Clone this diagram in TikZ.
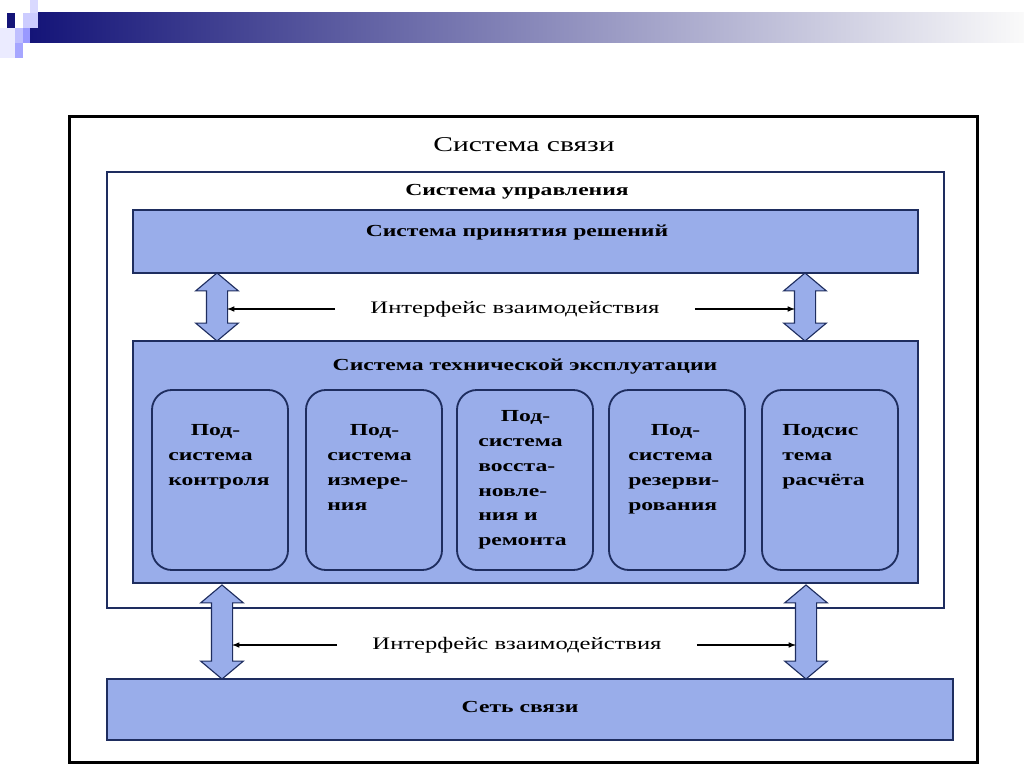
\documentclass[tikz,border=0pt]{standalone}
\usepackage{fontspec}
\setmainfont{Liberation Serif}
\newfontfamily\widefont{Liberation Serif}[FakeStretch=1.4]
\usetikzlibrary{shapes.arrows,positioning}
\definecolor{boxblue}{RGB}{153,173,234}
\definecolor{boxline}{RGB}{30,45,95}
\definecolor{navybar}{RGB}{20,20,120}

\begin{document}
\begin{tikzpicture}[x=0.025cm, y=-0.025cm,
  box/.style={draw=boxline, line width=0.9pt, fill=boxblue, rectangle, inner sep=0pt},
  subbox/.style={draw=boxline, line width=1.3pt, fill=boxblue, rounded corners=0.5cm, minimum width=3.4cm, minimum height=4.5cm},
  subtext/.style={align=left, anchor=north west, inner sep=0pt, font=\widefont\bfseries\fontsize{12}{17.7}\selectfont},
  headtext/.style={inner sep=0pt, font=\widefont\bfseries\fontsize{12}{14}\selectfont},
  ifctext/.style={inner sep=0pt, font=\widefont\fontsize{12.5}{14}\selectfont},
  dblarrow/.style={double arrow, rotate=90, draw=boxline, fill=boxblue, line width=0.8pt, inner xsep=0pt, inner ysep=0.25cm, double arrow head extend=0.27cm, double arrow tip angle=100},
  thin/.style={-latex, line width=0.8pt, shorten >=0.25cm}]
\useasboundingbox (0,0) rectangle (1024,767);

% Slide decoration
\shade[left color=navybar, right color=white!96!gray] (30,13) rectangle (1024,43);
\fill[navybar] (7,13) rectangle (15,28);
\fill[blue!15!white] (30,0) rectangle (38,13);
\fill[blue!20!white] (23,13) rectangle (38,28);
\fill[blue!8!white] (0,28) rectangle (15,58);
\fill[blue!25!white] (15,28) rectangle (23,43);
\fill[blue!40!white] (23,28) rectangle (30,43);
\fill[blue!35!white] (15,43) rectangle (23,58);

% Frames
\node[draw=black, line width=2.2pt, fill=white, minimum width=22.675cm, minimum height=16.125cm] (frame) at (523.5,439.5) {};
\node[font=\widefont\fontsize{15}{17}\selectfont, inner sep=0pt] (title) at (524,145) {Система связи};

\node[draw=boxline, line width=0.9pt, fill=white, minimum width=20.925cm, minimum height=10.9cm] (ctrl) at (525.5,390) {};
\node[headtext] (ctrllbl) at (517,192) {Система управления};

\node[box, minimum width=19.625cm, minimum height=1.575cm] (dec) at (525.5,241.5) {};
\node[headtext] (declbl) at (517,232) {Система принятия решений};

\node[box, minimum width=19.625cm, minimum height=6.05cm] (exp) at (525.5,462) {};
\node[headtext] (explbl) at (525,367) {Система технической эксплуатации};

\node[box, minimum width=21.15cm, minimum height=1.525cm] (net) at (530,709.5) {};
\node[headtext] (netlbl) at (520,707) {Сеть связи};

% Subsystems
\node[subbox] (sub1) at (220,480) {};
\node[subbox] (sub2) at (374,480) {};
\node[subbox] (sub3) at (525,480) {};
\node[subbox] (sub4) at (677,480) {};
\node[subbox] (sub5) at (830,480) {};

\node[subtext] (sub1txt) at (168,424) {\hspace*{16pt}Под-\\система\\контроля};
\node[subtext] (sub2txt) at (327,424) {\hspace*{16pt}Под-\\система\\измере-\\ния};
\node[subtext] (sub3txt) at (478,410) {\hspace*{16pt}Под-\\система\\восста-\\новле-\\ния и\\ремонта};
\node[subtext] (sub4txt) at (628,424) {\hspace*{16pt}Под-\\система\\резерви-\\рования};
\node[subtext] (sub5txt) at (782,424) {Подсис\\тема\\расчёта};

% Interfaces
\node[dblarrow, minimum height=1.7cm] (dbl1) at (217,307) {};
\node[dblarrow, minimum height=1.7cm] (dbl2) at (805,307) {};
\node[dblarrow, minimum height=2.35cm] (dbl3) at (222,632) {};
\node[dblarrow, minimum height=2.35cm] (dbl4) at (806,632) {};

\node[ifctext] (ifc1) at (515,309) {Интерфейс взаимодействия};
\node[ifctext] (ifc2) at (517,645) {Интерфейс взаимодействия};

\draw[thin] ([xshift=-0.875cm]ifc1.west) -- (ifc1.west -| dbl1.center);
\draw[thin] ([xshift=0.875cm]ifc1.east) -- (ifc1.east -| dbl2.center);
\draw[thin] ([xshift=-0.875cm]ifc2.west) -- (ifc2.west -| dbl3.center);
\draw[thin] ([xshift=0.875cm]ifc2.east) -- (ifc2.east -| dbl4.center);

\end{tikzpicture}
\end{document}
